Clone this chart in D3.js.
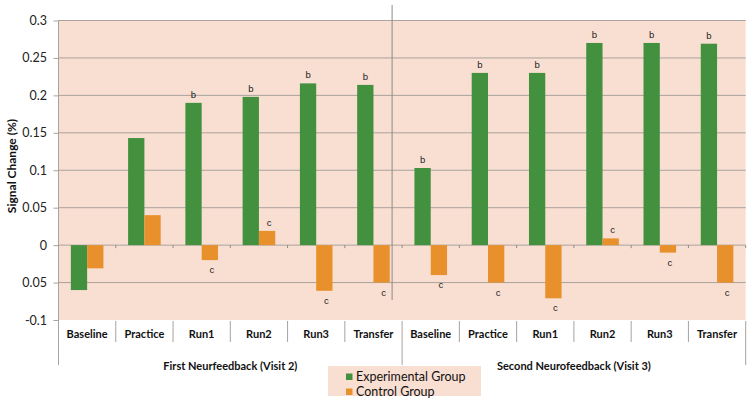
<!DOCTYPE html>
<html>
<head>
<meta charset="utf-8">
<script src="https://cdn.jsdelivr.net/npm/d3@7"></script>
<style>
html,body{margin:0;padding:0;background:#fff;}
svg{display:block;font-family:Lato,"Open Sans",sans-serif;}
</style>
</head>
<body>
<svg id="chart" width="753" height="403"></svg>
<script>
const categories = ["Baseline","Practice","Run1","Run2","Run3","Transfer",
                    "Baseline","Practice","Run1","Run2","Run3","Transfer"];
const groups = ["First Neurfeedback (Visit 2)","Second Neurofeedback (Visit 3)"];
const seriesNames = ["Experimental Group","Control Group"];
const experimental = [-0.060,0.143,0.190,0.198,0.216,0.214, 0.103,0.230,0.230,0.270,0.270,0.269];
const control      = [-0.031,0.040,-0.020,0.019,-0.061,-0.050, -0.040,-0.050,-0.071,0.009,-0.010,-0.050];
const expLabels    = ["","","b","b","b","b", "b","b","b","b","b","b"];
const ctrlLabels   = ["","","c","c","c","c", "c","c","c","c","c","c"];
const yTicks = [-0.1,-0.05,0,0.05,0.1,0.15,0.2,0.25,0.3];
const yTickLabels = ["-0.1","0.05","0","0.05","0.1","0.15","0.2","0.25","0.3"];

const colors = ["#43903f","#e8902b"];
const svg = d3.select("#chart");
const L = 58.5, R = 745.7, T = 20.5, B = 320;

const y = d3.scaleLinear().domain([-0.1,0.3]).range([B,T]);
const x0 = d3.scaleBand().domain(d3.range(categories.length)).range([L,R]).paddingInner(0).paddingOuter(0);
const x1 = d3.scaleBand().domain([0,1]).range([0,x0.bandwidth()]).paddingInner(0).paddingOuter(0.757);

// plot background
svg.append("rect").attr("x",L).attr("y",T).attr("width",R-L).attr("height",B-T).attr("fill","#f9dfd2");

// gridlines
svg.append("g").selectAll("line").data(yTicks.filter(d=>d>-0.1)).join("line")
  .attr("x1",L).attr("x2",R).attr("y1",d=>y(d)).attr("y2",d=>y(d))
  .attr("stroke","#a9a29e").attr("stroke-width",1);

// y axis
const yAxis = d3.axisLeft(y).tickValues(yTicks).tickSize(5)
  .tickFormat((d,i)=>yTickLabels[i]);
const gy = svg.append("g").attr("transform",`translate(${L},0)`).call(yAxis);
gy.select(".domain").remove();
gy.selectAll(".tick line").attr("stroke","#a9a29e");
gy.selectAll(".tick text").attr("font-size","12.5px").attr("fill","#222").attr("x",-11.5)
  .attr("font-family","Lato,sans-serif");
svg.append("line").attr("x1",L).attr("x2",L).attr("y1",T).attr("y2",363).attr("stroke","#a9a29e");

// y title
svg.append("text").attr("transform",`translate(16,166) rotate(-90)`)
  .attr("text-anchor","middle").attr("font-size","12px").attr("font-weight","bold").attr("fill","#111")
  .text("Signal Change (%)");

// separator line in plot
const sepX = x0(6) - 10;
svg.append("line").attr("x1",sepX).attr("x2",sepX).attr("y1",5).attr("y2",300)
  .attr("stroke","#8f8a87").attr("stroke-width",1);

// ticks on zero line
svg.append("g").selectAll("line").data(d3.range(1,categories.length+1)).join("line")
  .attr("x1",d=>L+d*x0.step()).attr("x2",d=>L+d*x0.step())
  .attr("y1",y(0)).attr("y2",y(0)+3).attr("stroke","#8f8a87");

// bars
const data = categories.map((c,i)=>({i, vals:[experimental[i],control[i]], labs:[expLabels[i],ctrlLabels[i]]}));
const cat = svg.append("g").selectAll("g").data(data).join("g")
  .attr("transform",d=>`translate(${x0(d.i)},0)`);
cat.selectAll("rect").data(d=>d.vals.map((v,k)=>({v,k}))).join("rect")
  .attr("x",d=>x1(d.k)).attr("width",x1.bandwidth())
  .attr("y",d=>y(Math.max(0,d.v))).attr("height",d=>Math.abs(y(d.v)-y(0)))
  .attr("fill",d=>colors[d.k]);
cat.selectAll("text").data(d=>d.vals.map((v,k)=>({v,k,lab:d.labs[k]})).filter(e=>e.lab)).join("text")
  .attr("x",d=>x1(d.k)+x1.bandwidth()/2 + (d.k===1?2:0))
  .attr("y",d=>d.v>=0 ? y(d.v)-5 : y(d.v)+13)
  .attr("text-anchor","middle").attr("font-size","9.5px").attr("fill","#222")
  .attr("font-family","'Liberation Sans',Arial,sans-serif")
  .text(d=>d.lab);

// category axis
const catY = 321;
svg.append("g").selectAll("line").data(d3.range(0,categories.length+1)).join("line")
  .attr("x1",d=>L+d*x0.step()).attr("x2",d=>L+d*x0.step())
  .attr("y1",catY).attr("y2",d=>(d%6===0)?365:342)
  .attr("stroke","#a9a29e");
svg.append("g").selectAll("text").data(categories).join("text")
  .attr("x",(d,i)=>x0(i)+x0.bandwidth()/2).attr("y",338)
  .attr("text-anchor","middle").attr("font-size","11px").attr("font-weight","bold").attr("fill","#111")
  .text(d=>d);
svg.append("g").selectAll("text").data(groups).join("text")
  .attr("x",(d,i)=>(x0(i*6)+x0(i*6+5)+x0.bandwidth())/2).attr("y",370)
  .attr("text-anchor","middle").attr("font-size","11px").attr("font-weight","bold").attr("fill","#111")
  .text(d=>d);

// legend
const lg = svg.append("g").attr("transform","translate(328,366)");
lg.append("rect").attr("width",153).attr("height",30).attr("fill","#f9dfd2");
const li = lg.selectAll("g").data(seriesNames).join("g")
  .attr("transform",(d,i)=>`translate(18,${8+i*15})`);
li.append("rect").attr("width",6.5).attr("height",6.5).attr("y",-0.5).attr("fill",(d,i)=>colors[i]);
li.append("text").attr("x",10).attr("y",7).attr("font-size","12.5px").attr("fill","#111").text(d=>d);
</script>
</body>
</html>
